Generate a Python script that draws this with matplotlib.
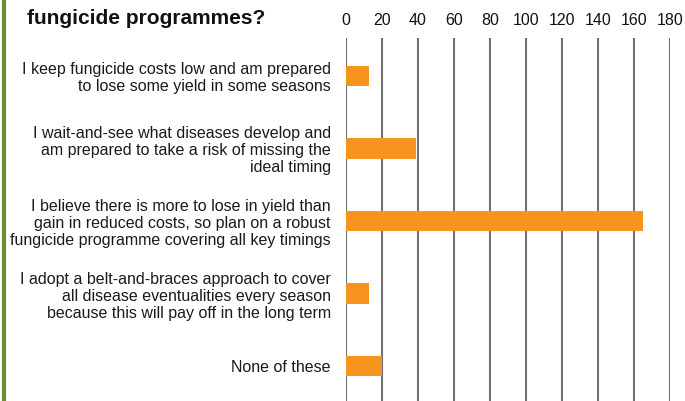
import matplotlib
matplotlib.use("Agg")
import matplotlib.pyplot as plt
from matplotlib.lines import Line2D

categories = [
    "I keep fungicide costs low and am prepared\nto lose some yield in some seasons",
    "I wait-and-see what diseases develop and\nam prepared to take a risk of missing the\nideal timing",
    "I believe there is more to lose in yield than\ngain in reduced costs, so plan on a robust\nfungicide programme covering all key timings",
    "I adopt a belt-and-braces approach to cover\nall disease eventualities every season\nbecause this will pay off in the long term",
    "None of these",
]
values = [13, 39, 165, 13, 20]
xticks = [0, 20, 40, 60, 80, 100, 120, 140, 160, 180]
title = "fungicide programmes?"

plt.rcParams['font.family'] = ['Liberation Sans', 'DejaVu Sans']

W, H = 685, 401
fig = plt.figure(figsize=(W/100, H/100), dpi=100)
ax = fig.add_axes([346/W, 0, (670-346)/W, 1-38/H])

ypos = list(range(len(values)))
ax.barh(ypos, values, height=0.28, color="#F7941E", zorder=3)
ax.set_xlim(0, 180)
ax.set_ylim(4.48, -0.52)
ax.set_xticks(xticks)
ax.xaxis.tick_top()
ax.tick_params(axis='x', length=0, pad=7, labelsize=11.5, labelcolor="#111111")
ax.set_xticklabels([str(t) for t in xticks])
ax.set_yticks(ypos)
ax.set_yticklabels(categories, fontsize=11.5, color="#1a1a1a", linespacing=1.17)
ax.tick_params(axis='y', length=0, pad=11)
ax.grid(axis='x', color="#707070", linewidth=1.5, zorder=1)
for s in ax.spines.values():
    s.set_visible(False)

fig.add_artist(Line2D([4/W, 4/W], [0, 1], color="#6f8d2e", linewidth=3, transform=fig.transFigure))
fig.text(27/W, 1-18/H, title, fontsize=15, fontweight='bold', va='center', ha='left',
         family=['Liberation Sans Narrow', 'Liberation Sans', 'DejaVu Sans'], color="#111111")

fig.savefig("out.png", dpi=100)
